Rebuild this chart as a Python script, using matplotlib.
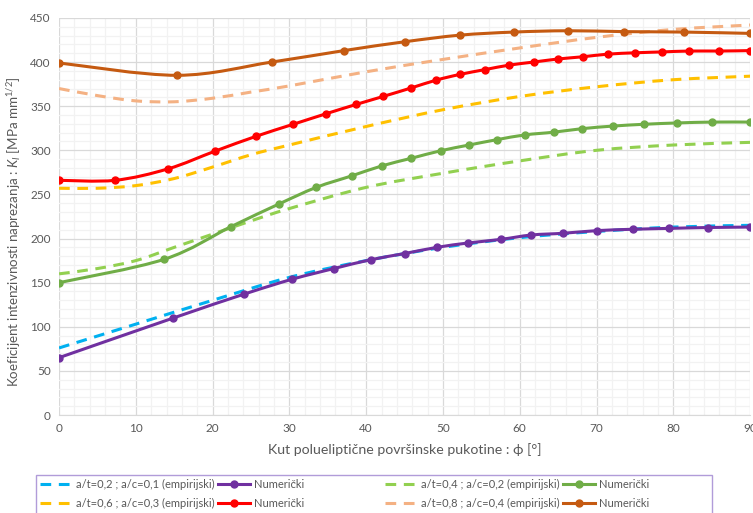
import numpy as np
import matplotlib
matplotlib.use('Agg')
import matplotlib.pyplot as plt
from matplotlib.path import Path
from matplotlib.patches import PathPatch, Rectangle
from matplotlib.lines import Line2D

plt.rcParams['font.family'] = ['Lato', 'DejaVu Sans']
plt.rcParams['mathtext.fontset'] = 'custom'
plt.rcParams['mathtext.rm'] = 'Lato'
plt.rcParams['mathtext.it'] = 'Lato:italic'

# podaci (očitano s grafa)
phi_emp_02 = [0, 10, 20, 30, 40, 50, 60, 70, 80, 90]
k_emp_02 = [76, 103, 130, 156, 175, 190, 201, 208, 213, 215]
phi_num_02 = [0, 14.9, 24.1, 30.4, 35.8, 40.6, 45.0, 49.2, 53.3, 57.5, 61.5, 65.7, 70.1, 74.7, 79.4, 84.5, 90]
k_num_02 = [65, 110, 137, 154, 166, 176, 183, 190, 195, 199, 204, 206, 209, 210.5, 211.5, 212.5, 213]

phi_emp_04 = [0, 5, 10, 15, 20, 25, 30, 40, 50, 60, 70, 80, 90]
k_emp_04 = [160, 166, 175, 190, 205, 220, 234, 258, 274, 288, 300, 306, 309]
phi_num_04 = [0, 13.7, 22.4, 28.6, 33.5, 38.1, 42.1, 45.9, 49.7, 53.4, 57.0, 60.7, 64.4, 68.1, 72.2, 76.2, 80.5, 85.1, 90]
k_num_04 = [150, 176.5, 213.5, 239, 258, 271, 282.5, 291, 299.5, 306, 312, 317.5, 320.5, 324.5, 327.5, 329.5, 331, 332, 332]

phi_emp_06 = [0, 5, 10, 15, 20, 25, 30, 40, 50, 60, 70, 80, 90]
k_emp_06 = [257, 257, 260, 268, 281, 295, 306, 327, 346, 361, 372, 380, 384]
phi_num_06 = [0, 7.3, 14.2, 20.3, 25.7, 30.5, 34.8, 38.7, 42.2, 45.8, 49.1, 52.2, 55.5, 58.6, 61.8, 65.0, 68.2, 71.5, 75.0, 78.5, 82.1, 86.0, 90]
k_num_06 = [266, 266, 279, 299, 316, 329.5, 341.5, 352, 361, 370.5, 379.5, 386, 391.5, 396.5, 400, 403.5, 406, 409, 410.5, 411.5, 412.5, 412.5, 413]

phi_emp_08 = [0, 5, 10, 15, 20, 25, 30, 40, 50, 60, 70, 80, 90]
k_emp_08 = [370, 362, 356, 355, 359, 366, 373, 389, 403, 416, 428, 437, 442]
phi_num_08 = [0, 15.4, 27.7, 37.1, 45.0, 52.2, 59.2, 66.3, 73.6, 81.4, 90]
k_num_08 = [399, 385, 400, 413, 423, 430.5, 434, 435.5, 434.5, 434, 432.5]

labels_emp = ['a/t=0,2 ; a/c=0,1 (empirijski)', 'a/t=0,4 ; a/c=0,2 (empirijski)',
              'a/t=0,6 ; a/c=0,3 (empirijski)', 'a/t=0,8 ; a/c=0,4 (empirijski)']
label_num = 'Numerički'

c_emp = ['#00B0F0', '#92D050', '#FFC000', '#F4B183']
c_num = ['#7030A0', '#70AD47', '#FF0000', '#C55A11']


def smooth_path(x, y):
    # glatka krivulja kao u Excelu (Bezier kroz točke)
    pts = np.column_stack([x, y]).astype(float)
    n = len(pts)
    verts = [pts[0]]
    codes = [Path.MOVETO]
    for i in range(n - 1):
        p0 = pts[i - 1] if i > 0 else pts[i]
        p1 = pts[i]
        p2 = pts[i + 1]
        p3 = pts[i + 2] if i + 2 < n else pts[i + 1]
        verts += [p1 + (p2 - p0) / 6, p2 - (p3 - p1) / 6, p2]
        codes += [Path.CURVE4] * 3
    return Path(verts, codes)


fig = plt.figure(figsize=(7.53, 5.13), dpi=100)
ax = fig.add_axes([0.0784, 0.191, 0.9177, 0.774])

lw = 2.2
dash = (0, (3.5, 2.5))
series = [(phi_emp_02, k_emp_02, phi_num_02, k_num_02),
          (phi_emp_04, k_emp_04, phi_num_04, k_num_04),
          (phi_emp_06, k_emp_06, phi_num_06, k_num_06),
          (phi_emp_08, k_emp_08, phi_num_08, k_num_08)]
z = 3
for i, (pe, ke, pn, kn) in enumerate(series):
    ax.add_patch(PathPatch(smooth_path(pe, ke), fill=False, edgecolor=c_emp[i], lw=lw,
                           linestyle=dash, capstyle='butt', zorder=z))
    z += 1
    ax.add_patch(PathPatch(smooth_path(pn, kn), fill=False, edgecolor=c_num[i], lw=lw,
                           capstyle='round', joinstyle='round', zorder=z))
    ax.plot(pn, kn, 'o', color=c_num[i], markersize=5, zorder=z)
    z += 1

ax.set_xlim(0, 90)
ax.set_ylim(0, 450)
ax.set_xticks(np.arange(0, 91, 10))
ax.set_yticks(np.arange(0, 451, 50))
ax.set_xticks(np.arange(0, 91, 2), minor=True)
ax.set_yticks(np.arange(0, 451, 10), minor=True)
ax.grid(which='major', color='#D9D9D9', lw=0.9, zorder=0)
ax.grid(which='minor', color='#F2F2F2', lw=0.9, zorder=0)
ax.set_axisbelow(True)
ax.tick_params(which='both', length=0, labelsize=8.5, labelcolor='#595959', pad=6)
for s in ['top', 'right', 'left']:
    ax.spines[s].set_visible(False)
ax.spines['bottom'].set_color('#D9D9D9')

ax.set_xlabel('Kut polueliptične površinske pukotine : ϕ [°]', fontsize=10.2, color='#595959', labelpad=6)
ax.set_ylabel(r'Koeficijent intenzivnosti naprezanja : $K_I$ [MPa mm$^{1/2}$]', fontsize=9.6,
              color='#595959')
ax.yaxis.set_label_coords(-0.052, 0.463)

# legenda
def h_emp(c):
    return Line2D([], [], color=c, lw=lw, linestyle=dash)


def h_num(c):
    return Line2D([], [], color=c, lw=lw, marker='o', markersize=5)


legkw = dict(ncol=2, frameon=False, fontsize=8, handlelength=2.9, handletextpad=0.35,
             columnspacing=0.25, labelspacing=0.72, borderpad=0, borderaxespad=0,
             labelcolor='#595959')
fig.legend([h_emp(c_emp[0]), h_emp(c_emp[2]), h_num(c_num[0]), h_num(c_num[2])],
           [labels_emp[0], labels_emp[2], label_num, label_num],
           loc='upper left', bbox_to_anchor=(40 / 753, 1 - 479 / 513), **legkw)
fig.legend([h_emp(c_emp[1]), h_emp(c_emp[3]), h_num(c_num[1]), h_num(c_num[3])],
           [labels_emp[1], labels_emp[3], label_num, label_num],
           loc='upper left', bbox_to_anchor=(385 / 753, 1 - 479 / 513), **legkw)
fig.add_artist(Rectangle((36 / 753, -0.05), (712 - 36) / 753, 0.05 + (513 - 475) / 513,
                         transform=fig.transFigure, fill=False, edgecolor='#B19CD9', lw=1))

fig.savefig('out.png', dpi=100)
